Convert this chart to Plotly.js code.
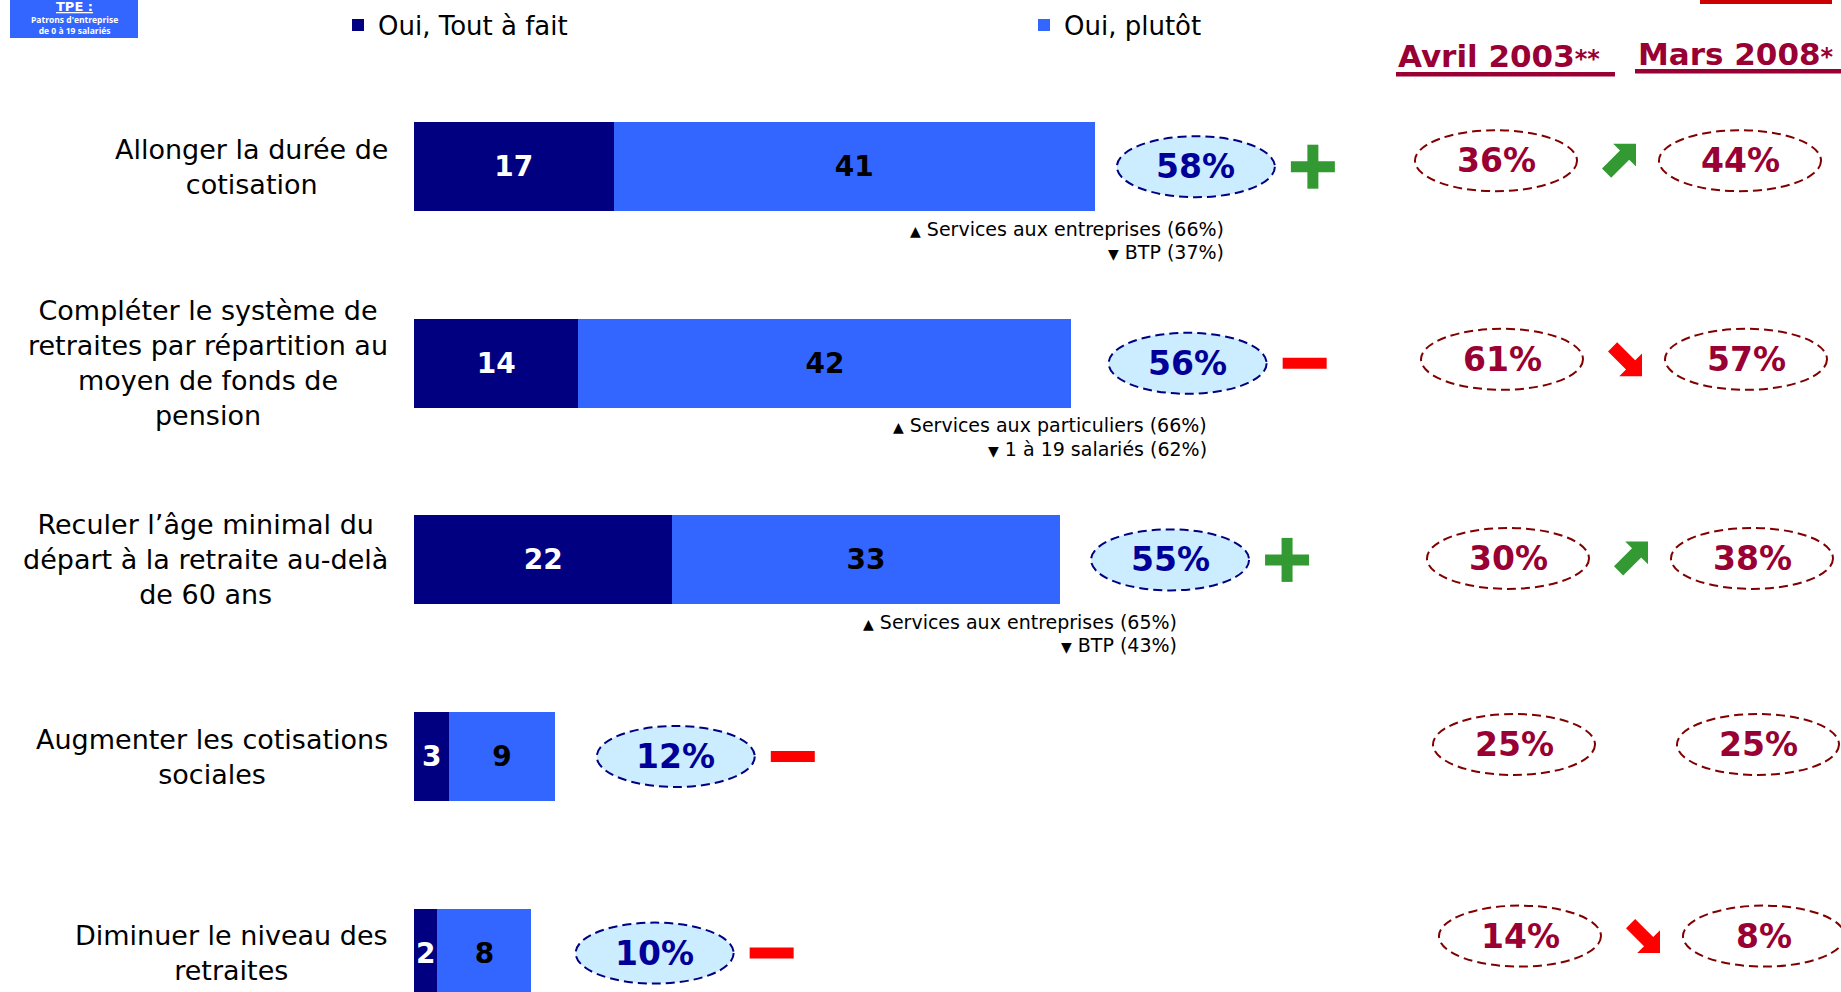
<!DOCTYPE html>
<html><head><meta charset="utf-8">
<script src="https://cdn.plot.ly/plotly-3.0.1.min.js"></script>
<style>html,body{margin:0;padding:0;background:#fff}#chart{width:1841px;height:992px}</style>
</head><body><div id="chart"></div>
<script>
// ---------- DATA ----------
const categories = [
  "Allonger la durée de<br>cotisation",
  "Compléter le système de<br>retraites par répartition au<br>moyen de fonds de<br>pension",
  "Reculer l’âge minimal du<br>départ à la retraite au-delà<br>de 60 ans",
  "Augmenter les cotisations<br>sociales",
  "Diminuer le niveau des<br>retraites"
];
const seriesNames = ["Oui, Tout à fait", "Oui, plutôt"];
const toutAFait = [17, 14, 22, 3, 2];
const plutot = [41, 42, 33, 9, 8];
const evolutionSign = ["+", "-", "+", "-", "-"];
const sousGroupeHaut = ["Services aux entreprises (66%)", "Services aux particuliers (66%)", "Services aux entreprises (65%)", "", ""];
const sousGroupeBas = ["BTP (37%)", "1 à 19 salariés (62%)", "BTP (43%)", "", ""];
const periodLabels = ["Avril 2003", "Mars 2008"];
const periodStars = ["**", "*"];
const avril2003 = [36, 61, 30, 25, 14];
const mars2008 = [44, 57, 38, 25, 8];
const boxTitle = "TPE :";
const boxLines = ["Patrons d'entreprise", "de 0 à 19 salariés"];

// ---------- LAYOUT TWEAKS (positions only) ----------
const ellipseGap = [8.6, 9.9, 9.4, 10.3, 10.5];     // units right of bar end
const noteGap = [11.2, 11.7, 10.2, 0, 0];           // units right of bar end
const rightRowShift = [-6, -4, -1.5, -12, -17];     // px vs. row centre

// ---------- GEOMETRY ----------
const W = 1841, H = 992;
const X0 = 414, PXU = 11.74;
const ROW0 = 166.7, ROWH = 196.6;
const FONT = "DejaVu Sans, Verdana, sans-serif";
const ux = p => p / PXU;
const uy = p => p / ROWH;
const pX = p => p / W;
const pY = p => 1 - p / H;

const NAVY = "#000080", BLUE = "#3366FF", CRIMSON = "#990033";
const totals = toutAFait.map((v, i) => v + plutot[i]);

const traces = [
  {
    type: "bar", orientation: "h", name: seriesNames[0],
    x: toutAFait, y: categories, width: 0.452,
    marker: {color: NAVY},
    text: toutAFait.map(String), texttemplate: "<b>%{text}</b>",
    textposition: "inside", insidetextanchor: "middle", constraintext: "none",
    textfont: {family: FONT, size: 28, color: "#FFFFFF"},
    hoverinfo: "skip"
  },
  {
    type: "bar", orientation: "h", name: seriesNames[1],
    x: plutot, y: categories, width: 0.452,
    marker: {color: BLUE},
    text: plutot.map(String), texttemplate: "<b>%{text}</b>",
    textposition: "inside", insidetextanchor: "middle", constraintext: "none",
    textfont: {family: FONT, size: 28, color: "#000000"},
    hoverinfo: "skip"
  }
];

const shapes = [];
const annotations = [];

categories.forEach((c, i) => {
  annotations.push({
    xref: "paper", yref: "y", x: pX(390), y: i, xanchor: "right", yanchor: "middle",
    align: "center", showarrow: false, text: c,
    font: {family: FONT, size: 27, color: "#000"}
  });
});

const ERX = ux(79), ERY = uy(30.5);
totals.forEach((t, i) => {
  const cx = t + ellipseGap[i];
  shapes.push({type: "circle", xref: "x", yref: "y", x0: cx - ERX, x1: cx + ERX, y0: i - ERY, y1: i + ERY,
    fillcolor: "#CCECFF", line: {color: NAVY, width: 2, dash: "9px,5px"}});
  annotations.push({xref: "x", yref: "y", x: cx, y: i, showarrow: false, xanchor: "center", yanchor: "middle",
    text: "<b>" + t + "%</b>", font: {family: FONT, size: 33, color: "#000099"}});
  const sx = cx + ux(117);
  const hw = ux(22), hh = uy(5.5);
  if (evolutionSign[i] === "+") {
    shapes.push({type: "rect", xref: "x", yref: "y", x0: sx - hw, x1: sx + hw, y0: i - hh, y1: i + hh,
      fillcolor: "#339933", line: {width: 0}});
    shapes.push({type: "rect", xref: "x", yref: "y", x0: sx - ux(5.5), x1: sx + ux(5.5), y0: i - uy(22), y1: i + uy(22),
      fillcolor: "#339933", line: {width: 0}});
  } else {
    shapes.push({type: "rect", xref: "x", yref: "y", x0: sx - hw, x1: sx + hw, y0: i - hh, y1: i + hh,
      fillcolor: "#FF0000", line: {width: 0}});
  }
  if (sousGroupeHaut[i]) {
    annotations.push({xref: "x", yref: "y", x: t + noteGap[i], y: i + uy(62), xanchor: "right", yanchor: "middle",
      showarrow: false, text: "<span style='font-size:14px'>▲</span> " + sousGroupeHaut[i],
      font: {family: FONT, size: 19, color: "#000"}});
  }
  if (sousGroupeBas[i]) {
    annotations.push({xref: "x", yref: "y", x: t + noteGap[i], y: i + uy(85.5), xanchor: "right", yanchor: "middle",
      showarrow: false, text: "<span style='font-size:14px'>▼</span> " + sousGroupeBas[i],
      font: {family: FONT, size: 19, color: "#000"}});
  }
});

function arrowPath(cx, cy, s, up) {
  const pts = [[0.33,0],[1,0],[1,0.67],[0.8,0.47],[0.27,1],[0,0.73],[0.53,0.2]];
  return pts.map((p, k) => {
    const px = cx - s/2 + p[0]*s;
    const py = up ? (cy - s/2 + p[1]*s) : (cy + s/2 - p[1]*s);
    return (k === 0 ? "M" : "L") + pX(px).toFixed(5) + "," + pY(py).toFixed(5);
  }).join(" ") + " Z";
}
avril2003.forEach((a, i) => {
  const b = mars2008[i];
  const cyPx = ROW0 + ROWH * i + rightRowShift[i];
  const yc = (cyPx - ROW0) / ROWH;
  const xa = 1496 + 6 * i, xb = 1740 + 6 * i;
  [[xa, a], [xb, b]].forEach(([xc, v]) => {
    shapes.push({type: "circle", xref: "paper", yref: "y", x0: pX(xc - 81), x1: pX(xc + 81),
      y0: yc - uy(30.5), y1: yc + uy(30.5), line: {color: "#800000", width: 2, dash: "9px,5px"}});
    annotations.push({xref: "paper", yref: "y", x: pX(xc), y: yc, showarrow: false, xanchor: "center", yanchor: "middle",
      text: "<b>" + v + "%</b>", font: {family: FONT, size: 33, color: CRIMSON}});
  });
  if (b !== a) {
    const up = b > a;
    shapes.push({type: "path", xref: "paper", yref: "paper", path: arrowPath((xa + xb) / 2 + 1, cyPx, 34, up),
      fillcolor: up ? "#339933" : "#FF0000", line: {width: 0}});
  }
});

[[1396, 56, 1396, 1615, 72], [1636, 54, 1635, 1845, 69]].forEach((h, k) => {
  annotations.push({xref: "paper", yref: "paper", x: pX(h[0]), y: pY(h[1]), xanchor: "left", yanchor: "middle",
    showarrow: false, text: "<b>" + periodLabels[k] + "<span style='font-size:24px'>" + periodStars[k] + "</span></b>",
    font: {family: FONT, size: 31, color: CRIMSON}});
  shapes.push({type: "rect", xref: "paper", yref: "paper", x0: pX(h[2]), x1: pX(h[3]), y0: pY(h[4] + 4.5), y1: pY(h[4]),
    fillcolor: CRIMSON, line: {width: 0}});
});
shapes.push({type: "rect", xref: "paper", yref: "paper", x0: pX(1700), x1: pX(1832), y0: pY(4), y1: pY(0),
  fillcolor: "#CC0000", line: {width: 0}});

shapes.push({type: "rect", xref: "paper", yref: "paper", x0: pX(10), x1: pX(138), y0: pY(38), y1: pY(-2),
  fillcolor: "#3366FF", line: {width: 0}});
annotations.push({xref: "paper", yref: "paper", x: pX(74), y: pY(6), xanchor: "center", yanchor: "middle", showarrow: false,
  text: "<b><u>" + boxTitle + "</u></b>", font: {family: FONT, size: 13, color: "#FFFFFF"}});
annotations.push({xref: "paper", yref: "paper", x: pX(74), y: pY(25), xanchor: "center", yanchor: "middle", showarrow: false,
  text: "<b>" + boxLines.join("<br>") + "</b>", font: {family: "Open Sans, sans-serif", size: 8.5, color: "#FFFFFF"}});

const layout = {
  width: W, height: H,
  margin: {l: 0, r: 0, t: 0, b: 0, pad: 0},
  paper_bgcolor: "#FFFFFF", plot_bgcolor: "#FFFFFF",
  barmode: "stack",
  font: {family: FONT},
  xaxis: {range: [-X0 / PXU, (W - X0) / PXU], visible: false, fixedrange: true},
  yaxis: {type: "category", categoryorder: "array", categoryarray: categories,
    range: [(H - ROW0) / ROWH, -ROW0 / ROWH], showticklabels: false, showgrid: false,
    zeroline: false, showline: false, ticks: "", fixedrange: true},
  showlegend: true,
  legend: {orientation: "h", x: pX(338), xanchor: "left", y: pY(25), yanchor: "middle",
    font: {family: FONT, size: 26, color: "#000"}, entrywidth: 641, entrywidthmode: "pixels",
    bgcolor: "rgba(0,0,0,0)", traceorder: "normal", itemwidth: 30},
  shapes: shapes,
  annotations: annotations
};

Plotly.newPlot("chart", traces, layout, {displayModeBar: false, staticPlot: true});
</script>
</body></html>
